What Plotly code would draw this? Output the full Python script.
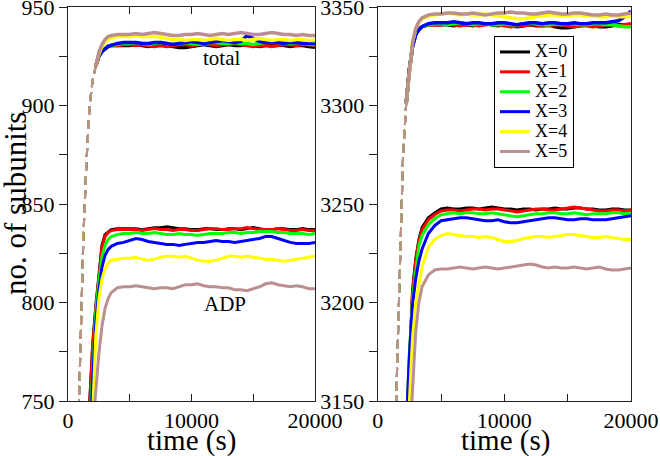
import plotly.graph_objects as go

# ---------------- data ----------------
SERIES = ["X=0", "X=1", "X=2", "X=3", "X=4", "X=5"]
COLORS = ["#000000", "#ff0000", "#00ff00", "#0000ff", "#ffff00", "#bc8f8f"]

T = [0, 500, 750, 1000, 1250, 1500, 1750, 2000, 2250, 2500, 2750, 3000, 3250, 3500, 4000, 4500,
     5000, 5500, 6000, 6500, 7000, 7500, 8000, 8500, 9000, 9500, 10000, 10500, 11000, 11500,
     12000, 12500, 13000, 13500, 14000, 14500, 15000, 15500, 16000, 16500, 17000, 17500,
     18000, 18500, 19000, 19500, 20000]

LEFT_TOTAL = [
    [540, 660, 718, 776, 834, 872, 900, 913, 920, 925, 927.5, 929, 930, 930.5, 930.5, 930.5,
     930.5, 931, 930.5, 930, 930.5, 931, 930.5, 930, 929.5, 929.5, 930, 930.5, 931, 930.5, 930,
     930.5, 931, 930.5, 930.5, 931, 930.5, 930, 930.5, 931, 931, 930.5, 930, 930.5, 930.5, 930, 929.5],
    [540, 660, 718, 776, 834, 872, 900, 913, 920, 925, 927.5, 929, 930, 930.5, 930.5, 931,
     931, 930.5, 931, 930.5, 930, 930.5, 930, 930.5, 931, 931, 930.5, 931, 931.5, 931, 930.5,
     931, 931, 931.5, 931, 930.5, 930, 930.5, 930.5, 930, 930.5, 931, 931, 930.5, 931, 931, 930.5],
    [540, 660, 718, 776, 834, 872, 900, 913, 920, 925, 927.5, 929, 930, 930.5, 931, 931.5,
     931.5, 932, 931.5, 931, 931.5, 932, 931.5, 931, 931.5, 932, 931.5, 931, 931.5, 932, 932,
     931.5, 931.5, 932, 931.5, 931.5, 931, 931.5, 932, 932.5, 932, 931.5, 931.5, 932, 931.5, 931, 931],
    [540, 660, 718, 776, 834, 872, 900, 913, 920, 925, 927.5, 929, 930, 930.5, 931.5, 932,
     932, 932, 931.5, 931.5, 932, 932, 931.5, 931, 931.5, 932, 932.5, 932, 931.5, 932, 932.5,
     933, 932.5, 932, 932.5, 935.5, 934, 932.5, 932, 932.5, 932, 931.5, 932, 932, 931.5, 931.5, 931.5],
    [540, 660, 718, 776, 834, 872, 900, 913, 920, 926, 930, 932.5, 933.5, 934.5, 935, 935,
     935, 935.5, 935, 935, 935, 934.5, 934, 933.5, 933.5, 933, 933.5, 933.5, 933, 933.5, 934,
     933.5, 933, 933.5, 933.5, 933, 933.5, 934, 933.5, 933, 933.5, 933.5, 933, 933.5, 933.5, 933, 933],
    [540, 660, 718, 776, 834, 872, 900, 913, 920, 927, 931, 933.5, 935, 935.5, 936, 936,
     936, 936.5, 936, 936.5, 937, 936.5, 936, 935.5, 935.5, 936, 936, 936.5, 936, 935.5, 936,
     936.5, 936, 936.5, 937, 936.5, 936, 936, 936.5, 937, 936.5, 936, 936, 935.5, 936, 935.5, 935.5],
]

LEFT_ADP = [
    [535, 595, 625, 655, 685, 715, 747, 779, 798, 814, 829, 834.5, 836, 837, 837.5, 837.5,
     837.5, 837.5, 837, 837.5, 838, 838, 838.5, 838, 837.5, 837.5, 837, 837, 837.5, 837.5, 837,
     837, 837.5, 837.5, 837, 837.5, 838, 837.5, 837, 837, 837.5, 837.5, 837, 837, 837.5, 837, 837],
    [535, 595, 625, 655, 685, 715, 746, 778, 797, 813, 828, 833.5, 835.5, 836.5, 837, 837,
     837, 837, 836.5, 837, 837.5, 837, 837, 836.5, 837, 837, 836.5, 836.5, 837, 837.5, 837.5,
     837, 837, 837.5, 837.5, 838, 837.5, 837, 837, 837, 837.5, 837, 836.5, 836.5, 837, 836.5, 836.5],
    [530, 590, 620, 650, 680, 710, 738, 772, 795, 811, 823, 829, 832, 833.5, 834.5, 835,
     835, 835.5, 835, 835, 835.5, 835, 834.5, 834.5, 835, 834.5, 834.5, 834, 834.5, 835, 835,
     835, 835.5, 835.5, 835, 835.5, 835.5, 836, 836, 836, 835.5, 835.5, 835, 835, 835, 834.5, 835],
    [520, 580, 610, 640, 670, 698, 724, 762, 790, 806, 818, 824, 827, 828.5, 830, 830.5,
     831.5, 832.5, 832, 831, 830.5, 830, 829.5, 829.5, 829, 829.5, 830, 830.5, 830.5, 831, 831.5,
     831, 831, 830.5, 831, 831.5, 832, 832.5, 833.5, 833.5, 832.5, 831.5, 830.5, 830, 830, 830, 830.5],
    [500, 560, 590, 620, 655, 688, 715, 744, 783, 802, 812, 817, 820, 821.5, 822, 822.5,
     822.5, 823, 822, 821.5, 822, 823, 823.5, 823.5, 823, 823.5, 822.5, 821.5, 821, 821, 821.5,
     822.5, 823.5, 823.5, 823, 823.5, 823, 822.5, 822, 822, 821.5, 821, 821.5, 822, 822.5, 823, 823.5],
    [480, 540, 570, 600, 635, 668, 700, 736, 755, 774, 788, 797, 802, 805, 807.5, 808,
     808, 808.5, 808, 807.5, 807, 807.5, 807.5, 807, 808, 809, 809, 809.5, 808.5, 808, 808,
     807.5, 807.5, 806.5, 806.5, 806, 807, 808, 809.5, 810, 809, 808.5, 808, 808.5, 808, 807, 807],
]

RIGHT_TOTAL = [
    [2800, 2900, 2960, 3040, 3102, 3163, 3225, 3274, 3301, 3318, 3330, 3336, 3338.5, 3340, 3341, 3341,
     3341, 3341, 3340.5, 3341, 3341, 3340.5, 3341, 3341.5, 3341, 3340.5, 3341, 3340.5, 3340, 3340.5, 3341,
     3340.5, 3340.5, 3341, 3340, 3339.5, 3339.5, 3340, 3340.5, 3341, 3340.5, 3340, 3340, 3340.5, 3341, 3341, 3341],
    [2800, 2900, 2960, 3040, 3102, 3163, 3225, 3274, 3301, 3318, 3330, 3336, 3338.5, 3340, 3341, 3341,
     3341, 3341.5, 3341, 3340.5, 3341, 3341, 3340.5, 3341, 3341.5, 3341, 3340.5, 3340, 3340.5, 3340.5, 3341,
     3341, 3340.5, 3340.5, 3341, 3341, 3340.5, 3340, 3340.5, 3340.5, 3340, 3340.5, 3341, 3341, 3340.5, 3341, 3341.5],
    [2800, 2900, 2960, 3040, 3102, 3163, 3225, 3274, 3301, 3318, 3330, 3336, 3338.5, 3340, 3341, 3341.5,
     3341.5, 3341, 3341.5, 3342, 3341.5, 3341, 3341.5, 3341.5, 3341, 3341, 3341.5, 3341, 3341, 3341.5, 3342,
     3341.5, 3341, 3341, 3341.5, 3341, 3341.5, 3341.5, 3341, 3341, 3341.5, 3341.5, 3341, 3341, 3340.5, 3340, 3340],
    [2800, 2900, 2960, 3040, 3102, 3163, 3225, 3274, 3301, 3318, 3330, 3336, 3338.5, 3340, 3341.5, 3342,
     3342, 3342, 3342.5, 3342, 3341.5, 3342, 3342, 3341.5, 3341.5, 3342, 3342, 3341.5, 3341, 3341.5, 3342,
     3342, 3341.5, 3342, 3342, 3341.5, 3341.5, 3342, 3341.5, 3341.5, 3342, 3342, 3342, 3342.5, 3343, 3345, 3348],
    [2800, 2900, 2960, 3040, 3102, 3163, 3225, 3274, 3301, 3318, 3332, 3339, 3342, 3344, 3345.5, 3346,
     3346.5, 3347, 3346.5, 3346, 3346.5, 3346, 3346, 3346.5, 3346, 3345.5, 3345, 3344.5, 3344, 3344, 3344.5,
     3345, 3345.5, 3346, 3346, 3345.5, 3345.5, 3346, 3346, 3345.5, 3345.5, 3345, 3345, 3345.5, 3345, 3345, 3345],
    [2800, 2900, 2960, 3040, 3102, 3163, 3225, 3274, 3301, 3318, 3332, 3339, 3342.5, 3344.5, 3346, 3346.5,
     3346.5, 3347, 3347, 3346.5, 3346.5, 3347, 3346.5, 3346, 3346.5, 3347, 3347, 3347.5, 3347, 3347, 3346.5,
     3346.5, 3347, 3347.5, 3347, 3346.5, 3346.5, 3347, 3347, 3346.5, 3346, 3346, 3346.5, 3346, 3346, 3346.5, 3347],
]

RIGHT_ADP = [
    [2792, 2868, 2906, 2944, 2982, 3020, 3058, 3098, 3137, 3176, 3206, 3222, 3232, 3238, 3243, 3245.5,
     3247.5, 3248, 3247.5, 3247.5, 3248, 3248, 3247.5, 3248, 3248.5, 3248, 3247.5, 3247.5, 3247, 3247.5, 3247.5,
     3247, 3247.5, 3247.5, 3248, 3247.5, 3247.5, 3248, 3248, 3247.5, 3247.5, 3247, 3247, 3247.5, 3247.5, 3247, 3247],
    [2792, 2868, 2906, 2944, 2982, 3020, 3058, 3098, 3137, 3175, 3205, 3221, 3231, 3237, 3242, 3244.5,
     3246.5, 3247, 3247, 3246.5, 3247, 3247.5, 3247.5, 3247, 3247.5, 3247.5, 3247, 3246.5, 3246, 3246.5, 3247,
     3247.5, 3247.5, 3247, 3247, 3247.5, 3248, 3248.5, 3248, 3247.5, 3247, 3246.5, 3246.5, 3247, 3247, 3246.5, 3247],
    [2792, 2868, 2906, 2944, 2982, 3020, 3058, 3098, 3137, 3174, 3202, 3217, 3229, 3234, 3239.5, 3242.5,
     3244.5, 3245, 3245.5, 3245, 3245.5, 3245.5, 3245, 3245, 3245.5, 3245, 3244.5, 3244, 3243.5, 3244, 3244.5,
     3245, 3245, 3245.5, 3245.5, 3245, 3245, 3245.5, 3245, 3244.5, 3245, 3245, 3245, 3245.5, 3245.5, 3245, 3245.5],
    [2792, 2868, 2906, 2944, 2982, 3020, 3058, 3098, 3137, 3173, 3199, 3212, 3221, 3227, 3235, 3239,
     3241.5, 3242, 3242.5, 3243, 3243, 3242.5, 3242, 3241.5, 3241.5, 3242, 3241, 3240.5, 3240.5, 3241, 3241.5,
     3242, 3242.5, 3243, 3243, 3242.5, 3242, 3242, 3242.5, 3242.5, 3242, 3242, 3242, 3242.5, 3243, 3243.5, 3244],
    [2825, 2890, 2922, 2955, 2988, 3020, 3052, 3085, 3118, 3150, 3182, 3200, 3210, 3218, 3228, 3232,
     3234, 3235, 3234.5, 3234, 3233.5, 3233.5, 3233, 3233.5, 3233, 3232, 3231, 3231, 3231.5, 3232.5, 3233,
     3233.5, 3233.5, 3233, 3233.5, 3234, 3234.5, 3234.5, 3234, 3233.5, 3233, 3233, 3233.5, 3233, 3232.5, 3232, 3232],
    [2830, 2890, 2920, 2950, 2980, 3010, 3040, 3070, 3100, 3128, 3158, 3185, 3200, 3208, 3214, 3216.5,
     3217, 3217, 3217.5, 3218, 3217.5, 3217, 3217.5, 3218, 3217.5, 3217, 3217.5, 3218, 3218.5, 3219, 3219.5,
     3219, 3218, 3217.5, 3218, 3217.5, 3217.5, 3218, 3217.5, 3217, 3217.5, 3218, 3217, 3216.5, 3216.5, 3217, 3217.5],
]

LEFT_YRANGE = [750, 950]
RIGHT_YRANGE = [3150, 3350]
XRANGE = [0, 20000]

# ---------------- styling ----------------
FONT = "Liberation Serif"
DASH_UNTIL = 2250  # early rise of the totals is drawn dashed
W, H = 660, 456


def px_x(p):
    return p / W


def px_y(p):
    return 1 - p / H


fig = go.Figure()


def add_panel(xa, ya, totals, adps, legend):
    for i in range(6):
        tot = totals[i]
        t_d = [t for t in T if t <= DASH_UNTIL]
        v_d = [v for t, v in zip(T, tot) if t <= DASH_UNTIL]
        t_s = [t for t in T if t >= DASH_UNTIL]
        v_s = [v for t, v in zip(T, tot) if t >= DASH_UNTIL]
        fig.add_trace(go.Scatter(x=t_d, y=v_d, mode="lines", xaxis=xa, yaxis=ya,
                                 line=dict(color=COLORS[i], width=2, dash="9px,5px"),
                                 showlegend=False, hoverinfo="skip"))
        fig.add_trace(go.Scatter(x=t_s, y=v_s, mode="lines", xaxis=xa, yaxis=ya,
                                 line=dict(color=COLORS[i], width=3.5),
                                 showlegend=False, hoverinfo="skip"))
    for i in range(6):
        fig.add_trace(go.Scatter(x=T, y=adps[i], mode="lines", xaxis=xa, yaxis=ya,
                                 name='<span style="font-size:18px">' + SERIES[i] + "</span>",
                                 line=dict(color=COLORS[i], width=3),
                                 showlegend=legend))


add_panel("x", "y", LEFT_TOTAL, LEFT_ADP, False)
add_panel("x2", "y2", RIGHT_TOTAL, RIGHT_ADP, True)

XD1 = [px_x(68), px_x(315)]
XD2 = [px_x(377.7), px_x(631)]
YD = [px_y(401), px_y(7)]

tickfont = dict(family=FONT, size=22, color="black")
axcol = "#222222"


def xaxis(domain, anchor):
    return dict(domain=domain, anchor=anchor, range=XRANGE, tick0=0, dtick=10000,
                tickformat="d", ticklabeloverflow="allow",
                ticks="inside", ticklen=7, tickcolor=axcol, showline=True, linecolor=axcol,
                linewidth=1, mirror="ticks", showgrid=False, zeroline=False, tickfont=tickfont,
                minor=dict(dtick=5000, tick0=0, ticks="inside", ticklen=7, tickcolor=axcol,
                           showgrid=False))


def yaxis(domain, anchor, rng, dt):
    return dict(domain=domain, anchor=anchor, range=rng, tick0=rng[0], dtick=dt,
                tickformat="d", ticklabeloverflow="allow",
                ticks="outside", ticklen=8, tickcolor=axcol, showline=True, linecolor=axcol,
                linewidth=1, mirror=True, showgrid=False, zeroline=False, tickfont=tickfont,
                minor=dict(dtick=dt / 2, ticks="outside", ticklen=8, tickcolor=axcol,
                           showgrid=False))


def yaxis_mirror(over, anchor, rng, dt):
    return dict(overlaying=over, anchor=anchor, side="right", range=rng, tick0=rng[0], dtick=dt,
                ticks="inside", ticklen=8, tickcolor=axcol, showticklabels=False,
                showline=False, showgrid=False, zeroline=False,
                minor=dict(dtick=dt / 2, ticks="inside", ticklen=8, tickcolor=axcol,
                           showgrid=False))


def label(text, x, y, size, angle=0):
    return dict(text=text, x=px_x(x), y=px_y(y), xref="paper", yref="paper",
                xanchor="center", yanchor="middle", showarrow=False, textangle=angle,
                font=dict(family=FONT, size=size, color="black"))


fig.update_layout(
    width=W, height=H,
    margin=dict(l=0, r=0, t=0, b=0, autoexpand=False),
    paper_bgcolor="white", plot_bgcolor="white",
    font=dict(family=FONT, color="black"),
    xaxis=xaxis(XD1, "y"),
    yaxis=yaxis(YD, "x", LEFT_YRANGE, 50),
    xaxis2=xaxis(XD2, "y2"),
    yaxis2=yaxis(YD, "x2", RIGHT_YRANGE, 50),
    yaxis3=yaxis_mirror("y", "x", LEFT_YRANGE, 50),
    yaxis4=yaxis_mirror("y2", "x2", RIGHT_YRANGE, 50),
    showlegend=True,
    legend=dict(x=px_x(494), y=px_y(36), xanchor="left", yanchor="top",
                bgcolor="white", bordercolor="black", borderwidth=1,
                font=dict(family=FONT, size=13, color="black"),
                tracegroupgap=0, itemwidth=30),
    annotations=[
        label("total", 221, 58, 21),
        label("ADP", 225, 304, 21),
        label("time (s)", 191.5, 440, 29),
        label("time (s)", 505, 440, 29),
        label("no. of subunits", 15, 204, 31, -90),
    ],
)

fig.write_html("out.html", config={"displayModeBar": False},
               post_script="document.body.style.margin='0';document.body.style.overflow='hidden';")
